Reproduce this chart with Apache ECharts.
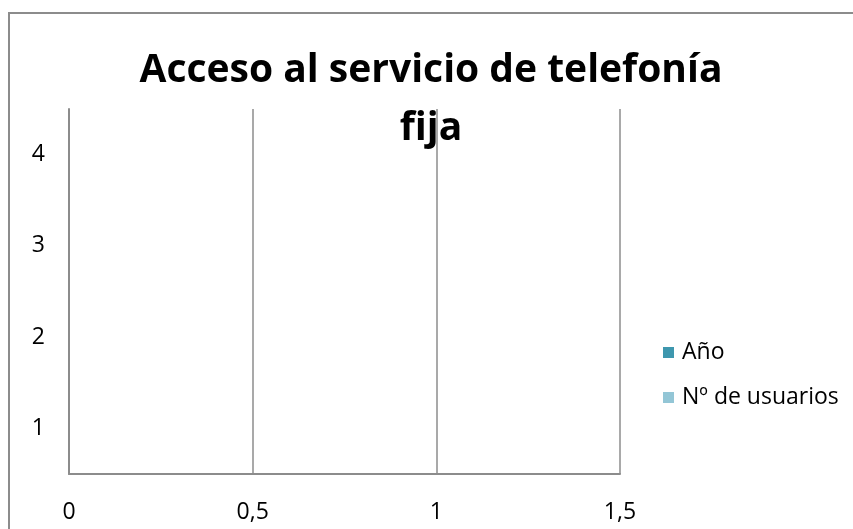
<!DOCTYPE html>
<html>
<head>
<meta charset="utf-8">
<script src="https://cdn.jsdelivr.net/npm/echarts@6/dist/echarts.min.js"></script>
<style>
  html, body { margin: 0; padding: 0; background: #fff; }
  #chart { width: 853px; height: 529px; }
</style>
</head>
<body>
<div id="chart"></div>
<script>
// Category labels on the vertical axis
var categories = ['1', '2', '3', '4'];
// Series values (no data entered yet)
var anoValues = [];
var usuariosValues = [];
// Value axis range
var xMin = 0;
var xMax = 1.5;
var xStep = 0.5;

var titleText = 'Acceso al servicio de telefonía\nfija';
var seriesNames = ['Año', 'Nº de usuarios'];

var chart = echarts.init(document.getElementById('chart'));
var labelFont = 'Open Sans, Liberation Sans, sans-serif';

chart.setOption({
  animation: false,
  backgroundColor: '#ffffff',
  graphic: [{
    type: 'rect',
    shape: { x: 9, y: 13, width: 900, height: 600 },
    style: { fill: 'none', stroke: '#8c8c8c', lineWidth: 2 },
    silent: true,
    z: -1
  }],
  title: {
    text: titleText,
    left: 426,
    textAlign: 'center',
    top: 37,
    textStyle: {
      fontFamily: labelFont,
      fontWeight: 'bold',
      fontSize: 39,
      lineHeight: 58,
      color: '#000'
    }
  },
  legend: {
    orient: 'vertical',
    left: 658,
    top: 336,
    itemWidth: 11,
    itemHeight: 11,
    itemGap: 22,
    icon: 'rect',
    textStyle: { fontFamily: labelFont, fontSize: 23, color: '#000', padding: [0, 0, 0, 3] },
    data: seriesNames
  },
  grid: { left: 69, right: 233, top: 109, bottom: 55, containLabel: false },
  xAxis: {
    type: 'value',
    min: xMin,
    max: xMax,
    interval: xStep,
    axisLine: { show: true, lineStyle: { color: '#8c8c8c', width: 2 } },
    axisTick: { show: false },
    splitLine: { show: true, lineStyle: { color: '#8c8c8c', width: 1.5 } },
    axisLabel: {
      margin: 27,
      fontFamily: labelFont,
      fontSize: 23,
      color: '#000',
      formatter: function (v) { return String(v).replace('.', ','); }
    }
  },
  yAxis: {
    type: 'category',
    data: categories,
    axisLine: { show: true, lineStyle: { color: '#8c8c8c', width: 2 } },
    axisTick: { show: false },
    splitLine: { show: false },
    axisLabel: {
      margin: 24,
      fontFamily: labelFont,
      fontSize: 23,
      color: '#000'
    }
  },
  series: [
    { name: seriesNames[0], type: 'bar', data: anoValues, itemStyle: { color: '#3e97ae' } },
    { name: seriesNames[1], type: 'bar', data: usuariosValues, itemStyle: { color: '#93c6d6' } }
  ]
});
</script>
</body>
</html>
